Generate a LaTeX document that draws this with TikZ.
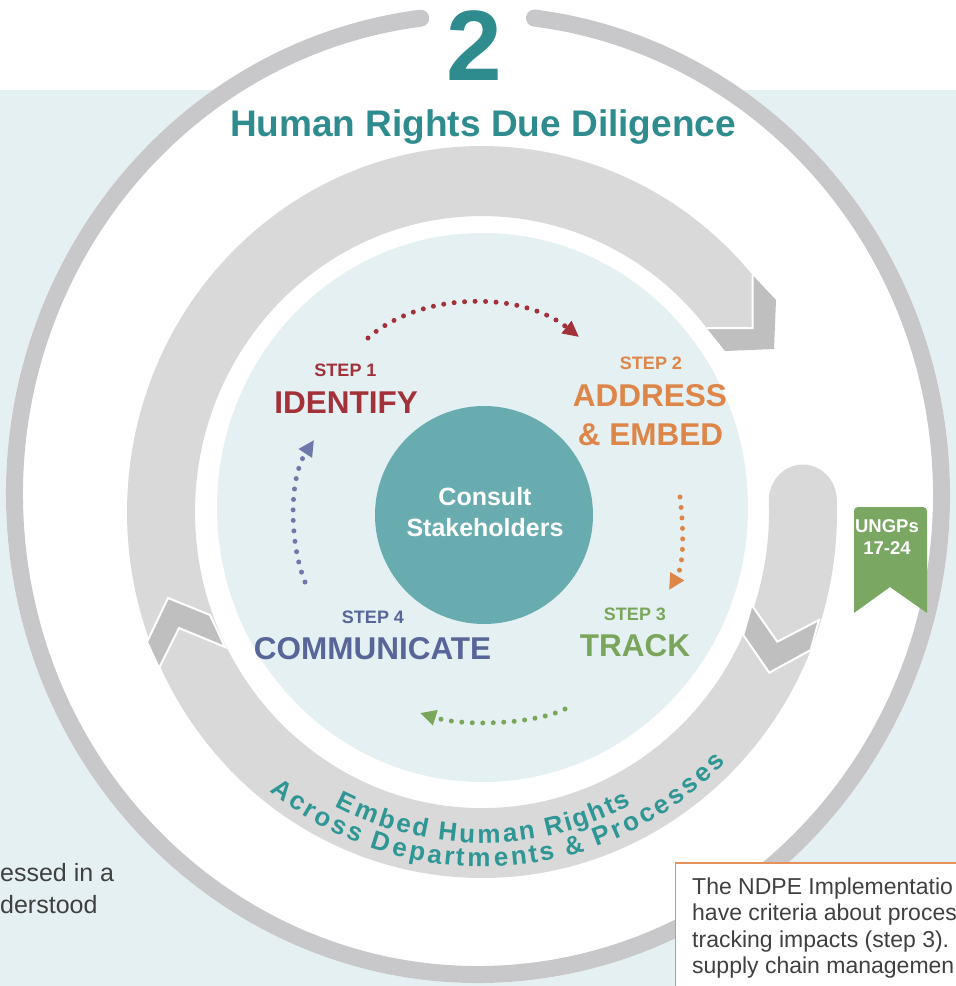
\documentclass[tikz,border=0pt]{standalone}
\usepackage{fontspec}
\setmainfont{Liberation Sans}
\usetikzlibrary{arrows.meta}
\definecolor{bgblue}{RGB}{228,240,242}
\definecolor{ringgrey}{RGB}{200,200,202}
\definecolor{bandgrey}{RGB}{217,217,217}
\definecolor{darkgrey}{RGB}{191,191,191}
\definecolor{titleteal}{RGB}{46,139,142}
\definecolor{bandtxt}{RGB}{46,150,148}
\definecolor{consultc}{RGB}{104,172,176}
\definecolor{stepred}{RGB}{163,49,58}
\definecolor{steporange}{RGB}{222,133,72}
\definecolor{stepgreen}{RGB}{122,166,92}
\definecolor{stepblue}{RGB}{88,101,153}
\definecolor{dotblue}{RGB}{110,120,170}
\definecolor{flaggreen}{RGB}{122,167,98}
\definecolor{boxorange}{RGB}{230,145,90}
\definecolor{textgrey}{RGB}{64,64,64}
\begin{document}
\begin{tikzpicture}[x=1pt,y=1pt,
  steplabel/.style={font=\bfseries\fontsize{18}{18}\selectfont, anchor=base, inner sep=0pt},
  stepword/.style={font=\bfseries\fontsize{31.5}{32}\selectfont, anchor=base, inner sep=0pt},
  consulttext/.style={font=\bfseries\fontsize{25}{25}\selectfont, text=white, anchor=base, inner sep=0pt},
  flagtext/.style={font=\bfseries\fontsize{18.5}{18.5}\selectfont, text=white, anchor=base, inner sep=0pt},
  bandchar/.style={font=\bfseries\fontsize{26}{26}\selectfont, text=bandtxt, anchor=base, inner sep=0pt},
  dotarrow/.style={line width=5pt, line cap=round, dash pattern=on 0pt off 10.5pt, -{Triangle[length=16pt,width=15pt]}},
  chev/.style={fill=darkgrey, draw=white, line width=2pt, line join=miter},
  bodytext/.style={font=\fontsize{23}{25}\selectfont, text=textgrey, anchor=base west, inner sep=0pt}
]
\useasboundingbox (0,0) rectangle (956,-986);
\clip (0,0) rectangle (956,-986);
% backgrounds
\fill[white] (0,0) rectangle (956,-986);
\fill[bgblue] (0,-90) rectangle (956,-986);
\fill[white] (478,-494.5) ellipse[x radius=472, y radius=488.5];
% outer ring
\draw[ringgrey, line width=17pt, line cap=round]
  ([shift={(478,-494.5)}]97.1:463.5 and 480) arc[start angle=97.1, end angle=443, x radius=463.5, y radius=480];
% title
\node[font=\bfseries\fontsize{100}{100}\selectfont, text=titleteal, anchor=base, inner sep=0pt] (two) at (474,-80) {2};
\node[font=\bfseries\fontsize{37}{37}\selectfont, text=titleteal, anchor=base, inner sep=0pt] (title) at (483,-136) {Human Rights Due Diligence};
% band
\fill[bandgrey] (752.5,-275) arc[start angle=40.36, end angle=362, x radius=355, y radius=366]
  arc[start angle=2, end angle=182, x radius=34, y radius=36]
  arc[start angle=362, end angle=38.43, x radius=287, y radius=296] -- (752.5,-328) -- cycle;
\fill[darkgrey] (752.5,-275) -- (776,-300) -- (774,-349) -- (725,-351) -- (706.8,-328.2) -- (752.5,-328) -- cycle;
\draw[white, line width=2pt] (752.5,-275) -- (752.5,-328) -- (706.8,-328.2);
\draw[chev] (147,-642) -- (168,-598) -- (210,-615) -- (225,-647) -- (179,-628) -- (159,-668) -- cycle;
\draw[chev] (751.7,-605) -- (777.3,-641.7) -- (819,-620) -- (810.7,-650) -- (769.3,-672.7) -- (743.3,-635) -- cycle;
% band text, line 1
\pgfmathsetmacro\kone{(298-242.5)/10390}
\gdef\cum{0}
\foreach \c/\w in {E/667,m/889,b/611,e/556,d/611,{}/278,H/722,u/611,m/889,a/556,n/611,{}/278,R/722,i/278,g/611,h/611,t/333,s/556}{
  \pgfmathsetmacro\ang{242.5+(\cum+\w/2)*\kone}
  \node[bandchar, rotate=\ang+90] at ([shift={(482,-512)}]\ang:321 and 331) {\c};
  \pgfmathsetmacro\newcum{\cum+\w}
  \global\let\cum\newcum
}
% band text, line 2
\pgfmathsetmacro\ktwo{(315.5-231.5)/16061}
\gdef\cum{0}
\foreach \c/\w in {A/722,c/556,r/389,o/611,s/556,s/556,{}/278,D/722,e/556,p/611,a/556,r/389,t/333,m/889,e/556,n/611,t/333,s/556,{}/278,\&/722,{}/278,P/667,r/389,o/611,c/556,e/556,s/556,s/556,e/556,s/556}{
  \pgfmathsetmacro\ang{231.5+(\cum+\w/2)*\ktwo}
  \node[bandchar, rotate=\ang+90] at ([shift={(482,-512)}]\ang:344 and 355) {\c};
  \pgfmathsetmacro\newcum{\cum+\w}
  \global\let\cum\newcum
}
% inner circle
\fill[bgblue] (482.5,-507.5) ellipse[x radius=265.5, y radius=274.5];
\node[circle, fill=consultc, minimum size=218pt, inner sep=0pt] (consult) at (484,-515) {};
\node[consulttext] (c1) at (485,-505) {Consult};
\node[consulttext] (c2) at (485,-536.7) {Stakeholders};
% steps
\node[steplabel, text=stepred] (s1) at (345.5,-376.7) {STEP 1};
\node[stepword, text=stepred] (w1) at (346,-413.3) {IDENTIFY};
\node[steplabel, text=steporange] (s2) at (651,-369.5) {STEP 2};
\node[stepword, text=steporange] (w2) at (650,-406.7) {ADDRESS};
\node[stepword, text=steporange] (w2b) at (650.5,-445) {\& EMBED};
\node[steplabel, text=stepgreen] (s3) at (635,-620.7) {STEP 3};
\node[stepword, text=stepgreen] (w3) at (635,-656) {TRACK};
\node[steplabel, text=stepblue] (s4) at (373,-623.3) {STEP 4};
\node[stepword, text=stepblue] (w4) at (372.5,-659.3) {COMMUNICATE};
% dotted arrows
\coordinate (a1s) at (368,-338); \coordinate (a1e) at (579,-337);
\coordinate (a2s) at (680,-497); \coordinate (a2e) at (669,-590);
\coordinate (a3s) at (565,-709); \coordinate (a3e) at (420,-713);
\coordinate (a4s) at (305,-582); \coordinate (a4e) at (314,-440);
\draw[dotarrow, stepred] (a1s) .. controls (420,-292) and (520,-290) .. (a1e);
\draw[dotarrow, steporange] (a2s) .. controls (684,-530) and (684,-565) .. (a2e);
\draw[dotarrow, stepgreen] (a3s) .. controls (535,-724) and (465,-727) .. (a3e);
\draw[dotarrow, dotblue] (a4s) .. controls (290,-545) and (288,-480) .. (a4e);
% flag
\fill[flaggreen] (854,-613) -- (854,-511) arc[start angle=180, end angle=90, radius=4] -- (923,-507)
  arc[start angle=90, end angle=0, radius=4] -- (927,-613) -- (890,-587) -- cycle;
\node[flagtext] (u1) at (887,-532) {UNGPs};
\node[flagtext] (u2) at (887,-554) {17-24};
% left text
\node[bodytext, font=\fontsize{25}{25}\selectfont] (lt1) at (0,-881) {essed in a};
\node[bodytext, font=\fontsize{25}{25}\selectfont] (lt2) at (0,-913) {derstood};
% right box
\draw[boxorange, fill=white, line width=1.5pt] (675.5,-863) rectangle (975,-1000);
\node[bodytext] (b1) at (692,-894) {The NDPE Implementatio};
\node[bodytext] (b2) at (692,-920.5) {have criteria about proces};
\node[bodytext] (b3) at (692,-947) {tracking impacts (step 3).};
\node[bodytext] (b4) at (692,-973.5) {supply chain managemen};
\end{tikzpicture}
\end{document}
